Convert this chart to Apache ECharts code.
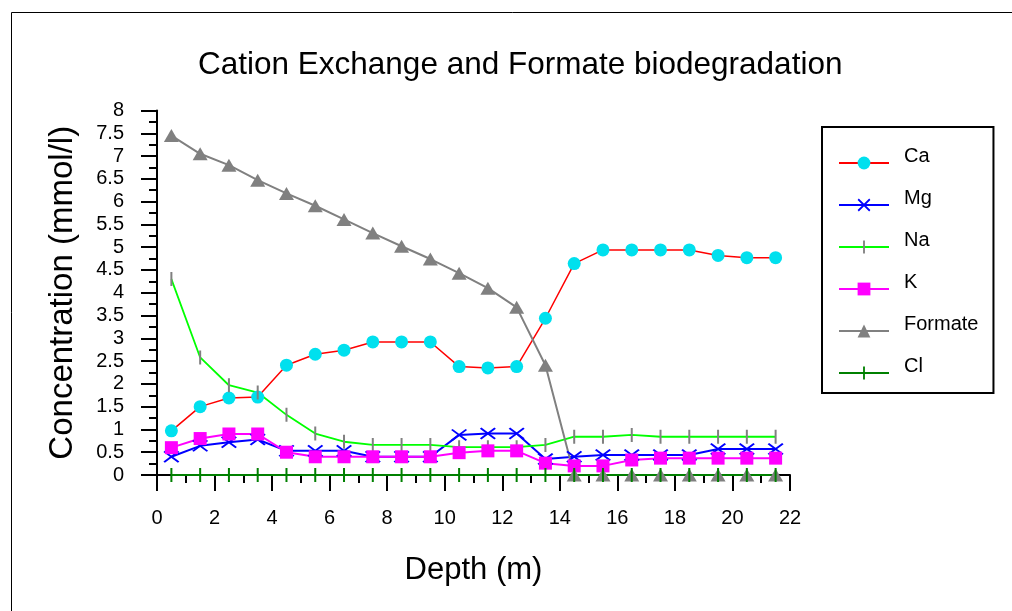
<!DOCTYPE html>
<html><head><meta charset="utf-8">
<script src="https://cdn.jsdelivr.net/npm/echarts@6/dist/echarts.min.js"></script>
<style>html,body{margin:0;padding:0;background:#fff}#c{width:1012px;height:611px}</style>
</head><body><div id="c"></div>
<script>
const depth = [0.5,1.5,2.5,3.5,4.5,5.5,6.5,7.5,8.5,9.5,10.5,11.5,12.5,13.5,14.5,15.5,16.5,17.5,18.5,19.5,20.5,21.5];
const ca = [0.97,1.5,1.69,1.71,2.41,2.65,2.74,2.92,2.92,2.92,2.38,2.35,2.38,3.44,4.64,4.94,4.94,4.94,4.94,4.82,4.77,4.77];
const mg = [0.40,0.64,0.72,0.78,0.53,0.53,0.53,0.40,0.40,0.40,0.88,0.91,0.91,0.35,0.40,0.44,0.44,0.44,0.44,0.57,0.57,0.57];
const na = [4.3,2.58,1.97,1.81,1.32,0.91,0.73,0.66,0.66,0.66,0.61,0.61,0.61,0.66,0.84,0.84,0.88,0.84,0.84,0.84,0.84,0.84];
const k = [0.60,0.80,0.90,0.90,0.50,0.40,0.40,0.40,0.40,0.40,0.49,0.53,0.53,0.26,0.20,0.20,0.33,0.37,0.37,0.37,0.37,0.37];
const formate = [7.45,7.05,6.8,6.47,6.18,5.91,5.61,5.31,5.02,4.74,4.43,4.1,3.68,2.41,0,0,0,0,0,0,0,0];
const cl = [0,0,0,0,0,0,0,0,0,0,0,0,0,0,0,0,0,0,0,0,0,0];
const seriesNames = ['Ca','Mg','Na','K','Formate','Cl'];
const titleText = 'Cation Exchange and Formate biodegradation';
const xName = 'Depth (m)';
const yName = 'Concentration (mmol/l)';

const pair = arr => depth.map((d,i)=>[d,arr[i]]);
const FONT = '"Liberation Sans", Arial, sans-serif';
const X_PATH = 'path://M0,1.2L1.5,0L16,10.8L14.5,12Z M14.5,0L16,1.2L1.5,12L0,10.8Z';
// thin vertical bar inside a square bounding box (corner points are zero-area)
const BAR_PATH = 'path://M0,0L0,0Z M14,14L14,14Z M6,0L8,0L8,14L6,14Z';

const chart = echarts.init(document.getElementById('c'), null, {renderer:'canvas'});
const mk = (name, data, lineColor, symColor, symbol, size, lw) => ({
  name, type:'line', data: pair(data), symbol, symbolSize:size,
  itemStyle:{color:symColor}, lineStyle:{color:lineColor, width:lw},
  emphasis:{disabled:true}, z:2
});
chart.setOption({
  animation:false,
  backgroundColor:'#fff',
  textStyle:{fontFamily:FONT},
  title:{text:titleText, left:193, top:44,
    textStyle:{fontFamily:FONT, fontSize:31.5, fontWeight:'normal', color:'#000'}},
  graphic:[{type:'rect', shape:{x:11.5, y:12.5, width:1100, height:700},
    style:{fill:'none', stroke:'#000', lineWidth:1}, silent:true, z:-1}],
  grid:{left:157, right:222, top:110.5, bottom:136},
  legend:{orient:'vertical', left:822, top:127, padding:[19,15,3,16],
    itemWidth:50, itemHeight:16, itemGap:8,
    borderColor:'#000', borderWidth:2, backgroundColor:'#fff',
    formatter: n => '{t|' + n + '}',
    textStyle:{fontFamily:FONT, fontSize:20, color:'#000',
      rich:{t:{fontFamily:FONT, fontSize:20, color:'#000', lineHeight:20, padding:[0,0,14,10]}}},
    data: seriesNames},
  xAxis:{type:'value', min:0, max:22, interval:2,
    name:xName, nameLocation:'middle', nameGap:80,
    nameTextStyle:{fontFamily:FONT, fontSize:31, color:'#000'},
    axisLine:{lineStyle:{color:'#000', width:2}},
    axisTick:{length:16, lineStyle:{color:'#000', width:2}},
    minorTick:{show:true, splitNumber:2, length:8, lineStyle:{color:'#000', width:2}},
    axisLabel:{fontFamily:FONT, fontSize:20, color:'#000', margin:33},
    splitLine:{show:false}},
  yAxis:{type:'value', min:0, max:8, interval:0.5,
    name:yName, nameLocation:'middle', nameGap:78,
    nameTextStyle:{fontFamily:FONT, fontSize:33, color:'#000'},
    axisLine:{lineStyle:{color:'#000', width:2}},
    axisTick:{length:16, lineStyle:{color:'#000', width:2}},
    minorTick:{show:true, splitNumber:2, length:8, lineStyle:{color:'#000', width:2}},
    axisLabel:{fontFamily:FONT, fontSize:20, color:'#000', margin:33},
    splitLine:{show:false}},
  series:[
    mk('Ca', ca, '#ff0000', '#00e0ee', 'circle', 13, 1.5),
    mk('Mg', mg, '#0000ff', '#0000ff', X_PATH, [16,12], 2),
    mk('Na', na, '#00ff00', '#808080', BAR_PATH, 14, 1.8),
    mk('K', k, '#ff00ff', '#ff00ff', 'rect', 13, 2),
    mk('Formate', formate, '#808080', '#808080', 'triangle', [15,13], 2),
    mk('Cl', cl, '#008000', '#008000', BAR_PATH, 14, 2)
  ]
});
</script></body></html>
